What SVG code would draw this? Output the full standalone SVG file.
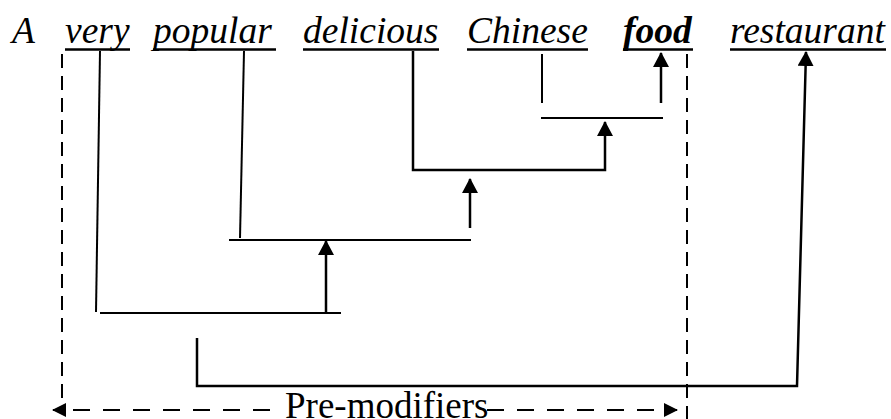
<svg xmlns="http://www.w3.org/2000/svg" width="891" height="419" viewBox="0 0 891 419">
<style>
.w{font-family:"Liberation Serif","DejaVu Serif",serif;font-style:italic;font-size:37.5px;fill:#000}
.b{font-weight:bold}
.ul{stroke:#000;stroke-width:2.5}
.ln{stroke:#000;stroke-width:2;fill:none}
.ar{stroke:#000;stroke-width:2.5;fill:none;marker-end:url(#ah)}
.ds{stroke:#000;stroke-width:2;fill:none;stroke-dasharray:14 8}
.dh{stroke:#000;stroke-width:2;fill:none;stroke-dasharray:17 13;marker-end:url(#ahs)}
.lab{font-family:"Liberation Serif","DejaVu Serif",serif;font-size:37px;fill:#000}
</style>
<defs>
<marker id="ah" viewBox="0 0 15 16" markerUnits="userSpaceOnUse" markerWidth="15" markerHeight="16" refX="14" refY="8" orient="auto"><path d="M0,0 L15,8 L0,16 z" fill="#000"/></marker>
<marker id="ahs" viewBox="0 0 14 14" markerUnits="userSpaceOnUse" markerWidth="14" markerHeight="14" refX="13" refY="7" orient="auto"><path d="M0,0 L14,7 L0,14 z" fill="#000"/></marker>
</defs>
<g id="w-A"><text class="w" x="12" y="43">A</text></g>
<g id="w-very"><text class="w" x="65" y="43">very</text><line class="ul" x1="65" y1="49.5" x2="130" y2="49.5"/></g>
<g id="w-popular"><text class="w" x="153" y="43">popular</text><line class="ul" x1="153" y1="49.5" x2="276" y2="49.5"/></g>
<g id="w-delicious"><text class="w" x="303" y="43">delicious</text><line class="ul" x1="303" y1="49.5" x2="439" y2="49.5"/></g>
<g id="w-chinese"><text class="w" x="467" y="43">Chinese</text><line class="ul" x1="467" y1="49.5" x2="588" y2="49.5"/></g>
<g id="w-food"><text class="w b" x="623" y="43">food</text><line class="ul" x1="623" y1="49.5" x2="693" y2="49.5"/></g>
<g id="w-restaurant"><text class="w" x="730" y="43">restaurant</text><line class="ul" x1="730" y1="49.5" x2="886" y2="49.5"/></g>
<g id="premod"><text class="lab" x="285" y="418">Pre-modifiers</text></g>
<g id="connectors">
<line class="ln" x1="100" y1="51" x2="96" y2="312"/>
<line class="ln" x1="100" y1="313" x2="341" y2="313"/>
<line class="ar" x1="326" y1="313" x2="326" y2="241"/>
<line class="ln" x1="244" y1="51" x2="240" y2="238"/>
<line class="ln" x1="229" y1="240" x2="471" y2="240"/>
<line class="ar" x1="470" y1="228" x2="470" y2="179"/>
<path class="ar" d="M413,51 V170 H605 V122"/>
<line class="ln" x1="542" y1="54" x2="542" y2="103"/>
<line class="ln" x1="541" y1="118" x2="663" y2="118"/>
<line class="ar" x1="661" y1="103" x2="661" y2="53"/>
<path class="ar" d="M197,338 V386 H797 L806,52"/>
<line class="ds" x1="62" y1="54" x2="62" y2="408"/>
<line class="ds" x1="687" y1="54" x2="687" y2="419"/>
<line class="dh" x1="270" y1="410" x2="53" y2="410"/>
<line class="dh" x1="487" y1="410" x2="677" y2="410"/>
</g>
</svg>
